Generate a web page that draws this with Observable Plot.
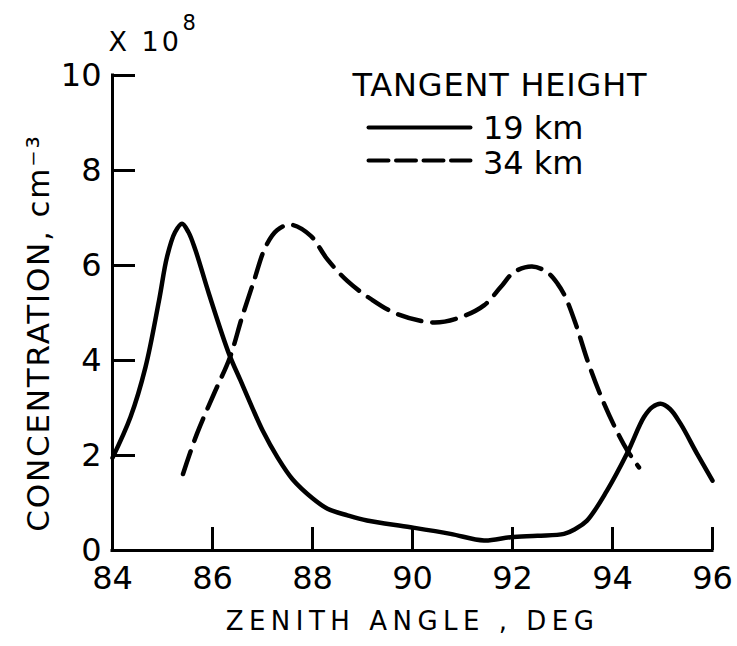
<!DOCTYPE html>
<html>
<head>
<meta charset="utf-8">
<script src="https://cdn.jsdelivr.net/npm/d3@7"></script>
<script src="https://cdn.jsdelivr.net/npm/@observablehq/plot@0.6"></script>
<style>
  html, body { margin: 0; padding: 0; background: #fff; }
</style>
</head>
<body>
<div id="chart"></div>
<script>
// ---- data ----
const xTicks = [84, 86, 88, 90, 92, 94, 96];
const yTicks = [0, 2, 4, 6, 8, 10];

// Tangent height 19 km (solid)
const h19Angle = [84.0, 84.36, 84.66, 84.93, 85.09, 85.25, 85.39, 85.52, 85.66, 85.93, 86.33, 86.56, 86.79, 87.0, 87.3, 87.6, 88.0, 88.3, 88.7, 89.09, 89.96, 90.76, 91.43, 91.96, 92.5, 93.03, 93.25, 93.49, 93.89, 94.29, 94.63, 94.8, 94.96, 95.15, 95.36, 95.69, 96.0];
const h19Conc  = [1.95, 2.81, 3.86, 5.26, 6.18, 6.7, 6.88, 6.7, 6.32, 5.40, 4.14, 3.58, 3.02, 2.53, 1.96, 1.50, 1.10, 0.88, 0.74, 0.63, 0.49, 0.35, 0.21, 0.28, 0.31, 0.35, 0.45, 0.63, 1.26, 2.04, 2.81, 3.02, 3.09, 2.98, 2.67, 2.04, 1.47];

// Tangent height 34 km (dashed)
const h34Angle = [85.41, 85.69, 86.03, 86.35, 86.59, 86.83, 87.06, 87.29, 87.56, 87.96, 88.29, 88.69, 89.16, 89.69, 90.43, 90.96, 91.43, 91.76, 92.03, 92.39, 92.69, 92.9, 93.06, 93.28, 93.5, 93.76, 94.06, 94.3, 94.53];
const h34Conc  = [1.61, 2.46, 3.30, 4.07, 4.91, 5.68, 6.39, 6.74, 6.86, 6.63, 6.14, 5.68, 5.30, 4.98, 4.80, 4.91, 5.16, 5.54, 5.86, 5.98, 5.86, 5.62, 5.33, 4.72, 4.00, 3.27, 2.57, 2.10, 1.75];

const seriesLabels = ["19 km", "34 km"];
const legendTitle = "TANGENT HEIGHT";
const xTitle = "ZENITH ANGLE , DEG";
const yTitle = "CONCENTRATION, cm\u207B\u00B3";
const scaleText = "X 10";
const scaleExp = "8";

// ---- build tables ----
const h19 = h19Angle.map((x, i) => ({x, y: h19Conc[i]}));
const h34 = h34Angle.map((x, i) => ({x, y: h34Conc[i]}));

// layout
const W = 737, H = 646, mL = 112, mR = 25, mT = 75, mB = 96;
const frameW = W - mL - mR, frameH = H - mT - mB;
const tickLen = 23;
const font = "DejaVu Sans, sans-serif";

const chart = Plot.plot({
  width: W,
  height: H,
  marginLeft: mL,
  marginRight: mR,
  marginTop: mT,
  marginBottom: mB,
  x: {domain: [xTicks[0], xTicks[xTicks.length - 1]], axis: null},
  y: {domain: [yTicks[0], yTicks[yTicks.length - 1]], axis: null},
  style: {fontFamily: font, fontSize: "32px", background: "#fff", color: "#000"},
  marks: [
    // axis lines
    Plot.ruleX([xTicks[0]], {stroke: "#000", strokeWidth: 3, strokeLinecap: "square"}),
    Plot.ruleY([yTicks[0]], {stroke: "#000", strokeWidth: 3, strokeLinecap: "square"}),
    // inward ticks
    Plot.ruleX(xTicks, {x: d => d, insetTop: frameH - tickLen, stroke: "#000", strokeWidth: 3}),
    Plot.ruleY(yTicks, {y: d => d, insetRight: frameW - tickLen, stroke: "#000", strokeWidth: 3}),
    // tick labels
    Plot.text(xTicks, {x: d => d, frameAnchor: "bottom", dy: 28, text: d => String(d), lineAnchor: "middle", fontSize: 32, fill: "#000"}),
    Plot.text(yTicks, {y: d => d, frameAnchor: "left", dx: -11, text: d => String(d), textAnchor: "end", lineAnchor: "middle", fontSize: 32, fill: "#000"}),
    // axis titles
    Plot.text([xTitle], {frameAnchor: "bottom", dy: 71, text: d => d, textAnchor: "middle", lineAnchor: "middle", fontSize: 26, fill: "#000"}),
    Plot.text([yTitle], {frameAnchor: "left", dx: -73, dy: 20, rotate: -90, text: d => d, textAnchor: "middle", lineAnchor: "middle", fontSize: 31, fill: "#000"}),
    Plot.text([scaleText], {frameAnchor: "top-left", dx: -4, dy: -33, text: d => d, textAnchor: "start", lineAnchor: "middle", fontSize: 27, fill: "#000"}),
    Plot.text([scaleExp], {frameAnchor: "top-left", dx: 70, dy: -52, text: d => d, textAnchor: "start", lineAnchor: "middle", fontSize: 21, fill: "#000"}),
    // curves
    Plot.line(h19, {x: "x", y: "y", curve: "catmull-rom", stroke: "#000", strokeWidth: 4.5}),
    Plot.line(h34, {x: "x", y: "y", curve: "catmull-rom", stroke: "#000", strokeWidth: 4.5, strokeDasharray: "24,11"}),
    // legend
    Plot.text([legendTitle], {x: 88.8, y: 9.79, text: d => d, textAnchor: "start", lineAnchor: "middle", fontSize: 32, fill: "#000"}),
    Plot.line([{x: 89.12, y: 8.905}, {x: 91.16, y: 8.905}], {x: "x", y: "y", stroke: "#000", strokeWidth: 4}),
    Plot.line([{x: 89.12, y: 8.21}, {x: 91.16, y: 8.21}], {x: "x", y: "y", stroke: "#000", strokeWidth: 4, strokeDasharray: "20,7.5"}),
    Plot.text([{x: 93.42, y: 8.874, t: seriesLabels[0]}, {x: 93.42, y: 8.137, t: seriesLabels[1]}], {x: "x", y: "y", text: "t", textAnchor: "end", lineAnchor: "middle", fontSize: 32, fill: "#000"})
  ]
});

const setSpacing = (txt, sp) => d3.select(chart).selectAll("text")
  .filter(function() { return this.textContent === txt; })
  .style("letter-spacing", sp);
setSpacing(xTitle, "5.5px");
setSpacing(scaleText, "3px");
setSpacing(legendTitle, "0.8px");
setSpacing(yTitle, "1.8px");

document.getElementById("chart").appendChild(chart);
</script>
</body>
</html>
